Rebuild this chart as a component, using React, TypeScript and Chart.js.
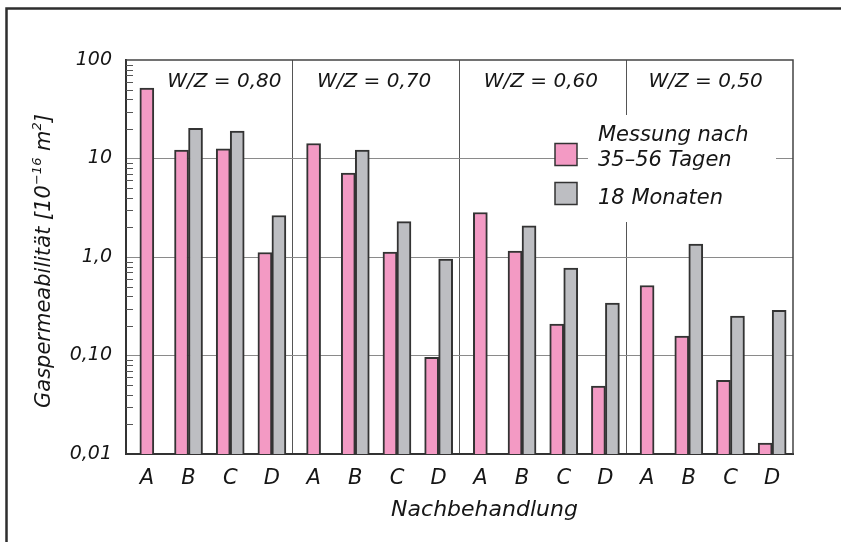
import { useEffect, useRef } from 'react';
import { Chart, registerables } from 'chart.js';

Chart.register(...registerables);

// ---------- data ----------
const treatments = ['A', 'B', 'C', 'D'];
const groupLabels = ['W/Z = 0,80', 'W/Z = 0,70', 'W/Z = 0,60', 'W/Z = 0,50'];
const categories = groupLabels.flatMap(() => treatments);
const seriesNames = ['Messung nach 35–56 Tagen', '18 Monaten'];
const after35to56Days = [52, 12.2, 12.5, 1.11, 14.2, 7.1, 1.12, 0.096, 2.83, 1.15, 0.209, 0.049, 0.514, 0.157, 0.056, 0.0129];
const after18Months = [null, 20.3, 19, 2.64, null, 12.2, 2.29, 0.955, null, 2.07, 0.77, 0.34, null, 1.35, 0.252, 0.288];
const yTickValues = [0.01, 0.1, 1, 10, 100];
const yTickLabels = ['0,01', '0,10', '1,0', '10', '100'];
const yTitleMain = 'Gaspermeabilität [10';
const yTitleExp = '−16';
const yTitleUnit = ' m';
const yTitleUnitExp = '2';
const yTitleEnd = ']';
const xTitle = 'Nachbehandlung';
const legendLines = [['Messung nach', '35–56 Tagen'], ['18 Monaten']];

// ---------- style ----------
const PINK = '#f39ac4';
const GRAY = '#bdbec2';
const EDGE = '#333333';
const TEXT = '#161616';
const FONT = "'DejaVu Sans', sans-serif";
const panelLabelShift = [15, -2, -2, -4];

const decor = {
  id: 'decor',
  beforeDraw(chart: any) {
    const { ctx, width, height } = chart;
    ctx.save();
    ctx.fillStyle = '#ffffff';
    ctx.fillRect(0, 0, width, height);
    ctx.restore();
  },
  afterDatasetsDraw(chart: any) {
    const { ctx, chartArea: ca, scales } = chart;
    const y = scales.y;
    ctx.save();

    // outer frame (left + top)
    ctx.strokeStyle = '#2e2e2e';
    ctx.lineWidth = 2.5;
    ctx.beginPath();
    ctx.moveTo(6.5, 542);
    ctx.lineTo(6.5, 8.5);
    ctx.lineTo(841, 8.5);
    ctx.stroke();

    // plot top + right border
    ctx.strokeStyle = '#444';
    ctx.lineWidth = 1.5;
    ctx.beginPath();
    ctx.moveTo(ca.left, ca.top);
    ctx.lineTo(ca.right, ca.top);
    ctx.lineTo(ca.right, ca.bottom);
    ctx.stroke();

    // minor ticks on the y axis (inside)
    ctx.strokeStyle = '#555';
    ctx.lineWidth = 1;
    for (let d = -2; d < 2; d++) {
      for (let k = 2; k <= 9; k++) {
        const py = Math.round(y.getPixelForValue(k * Math.pow(10, d))) + 0.5;
        ctx.beginPath();
        ctx.moveTo(ca.left, py);
        ctx.lineTo(ca.left + 7, py);
        ctx.stroke();
      }
    }

    // panel labels
    ctx.fillStyle = TEXT;
    ctx.font = `italic 20px ${FONT}`;
    ctx.textAlign = 'center';
    ctx.textBaseline = 'alphabetic';
    const catW = (ca.right - ca.left) / categories.length;
    groupLabels.forEach((g, i) => {
      const cx = ca.left + catW * (i * 4 + 2) + panelLabelShift[i];
      ctx.fillText(g, cx, 86.5);
    });

    // legend
    ctx.fillStyle = '#ffffff';
    ctx.fillRect(588, 115, 188, 107);
    const boxes = [
      { color: PINK, top: 143.5 },
      { color: GRAY, top: 182.5 },
    ];
    boxes.forEach((b) => {
      ctx.fillStyle = b.color;
      ctx.fillRect(555, b.top, 22, 22);
      ctx.strokeStyle = EDGE;
      ctx.lineWidth = 1.5;
      ctx.strokeRect(555, b.top, 22, 22);
    });
    ctx.fillStyle = TEXT;
    ctx.font = `italic 21px ${FONT}`;
    ctx.textAlign = 'left';
    ctx.fillText(legendLines[0][0], 598, 141);
    ctx.fillText(legendLines[0][1], 598, 165.5);
    ctx.fillText(legendLines[1][0], 598, 204);

    // x title
    ctx.font = `italic 22px ${FONT}`;
    ctx.textAlign = 'center';
    ctx.fillText(xTitle, (ca.left + ca.right) / 2 + 25, 516);

    // y title with superscripts
    ctx.save();
    ctx.translate(50, (ca.top + ca.bottom) / 2 + 4);
    ctx.rotate(-Math.PI / 2);
    const big = `italic 21px ${FONT}`;
    const small = `italic 13px ${FONT}`;
    const parts: [string, string, number][] = [
      [yTitleMain, big, 0],
      [yTitleExp, small, -9],
      [yTitleUnit, big, 0],
      [yTitleUnitExp, small, -9],
      [yTitleEnd, big, 0],
    ];
    let total = 0;
    parts.forEach(([t, f]) => {
      ctx.font = f;
      total += ctx.measureText(t).width;
    });
    let px = -total / 2;
    ctx.textAlign = 'left';
    parts.forEach(([t, f, dy]) => {
      ctx.font = f;
      ctx.fillText(t, px, dy);
      px += ctx.measureText(t).width;
    });
    ctx.restore();

    ctx.restore();
  },
};

export default function App() {
  const ref = useRef<HTMLCanvasElement | null>(null);
  useEffect(() => {
    if (!ref.current) return;
    const chart = new Chart(ref.current, {
      type: 'bar',
      data: {
        labels: categories,
        datasets: [
          {
            label: seriesNames[0],
            data: after35to56Days,
            backgroundColor: PINK,
            borderColor: EDGE,
            borderWidth: 2,
            barThickness: 14,
            skipNull: true,
          } as any,
          {
            label: seriesNames[1],
            data: after18Months,
            backgroundColor: GRAY,
            borderColor: EDGE,
            borderWidth: 2,
            barThickness: 14,
            skipNull: true,
          } as any,
        ],
      },
      options: {
        responsive: false,
        animation: false,
        devicePixelRatio: 1,
        layout: { padding: { left: 0, top: 60, right: 48, bottom: 0 } },
        plugins: {
          legend: { display: false },
          tooltip: { enabled: false },
          title: { display: false },
        },
        scales: {
          x: {
            type: 'category',
            offset: true,
            grid: {
              offset: true,
              drawTicks: false,
              lineWidth: 1,
              color: (c: any) => (c.index === 4 || c.index === 8 || c.index === 12 ? '#555' : 'rgba(0,0,0,0)'),
            },
            border: { display: true, color: EDGE, width: 2 },
            ticks: {
              autoSkip: false,
              maxRotation: 0,
              padding: 12,
              color: TEXT,
              font: { family: FONT, size: 21, style: 'italic' },
            },
            afterFit: (s: any) => {
              s.height = 88;
            },
          },
          y: {
            type: 'logarithmic',
            min: 0.01,
            max: 100,
            afterBuildTicks: (s: any) => {
              s.ticks = yTickValues.map((v) => ({ value: v }));
            },
            grid: {
              drawTicks: false,
              lineWidth: 1,
              color: (c: any) => (c.tick && (c.tick.value === 100 || c.tick.value === 0.01) ? 'rgba(0,0,0,0)' : '#8a8a8a'),
            },
            border: { display: true, color: EDGE, width: 2 },
            ticks: {
              padding: 14,
              color: TEXT,
              font: { family: FONT, size: 19, style: 'italic' },
              callback: (v: any) => {
                const i = yTickValues.findIndex((t) => Math.abs(t - Number(v)) < t * 1e-6);
                return i >= 0 ? yTickLabels[i] : '';
              },
            },
            afterFit: (s: any) => {
              s.width = 126;
            },
          },
        },
      },
      plugins: [decor],
    });
    return () => chart.destroy();
  }, []);
  return (
    <canvas
      ref={ref}
      width={841}
      height={542}
      style={{ position: 'fixed', left: 0, top: 0, width: 841, height: 542, display: 'block' }}
    />
  );
}
